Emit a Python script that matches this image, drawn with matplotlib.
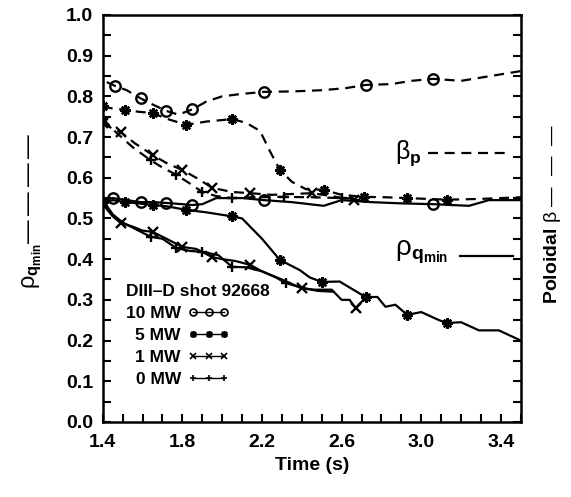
import matplotlib
matplotlib.use('Agg')
import matplotlib.pyplot as plt
import numpy as np
from matplotlib.lines import Line2D
from matplotlib.ticker import FixedLocator, MultipleLocator

plt.rcParams['font.family'] = ['Liberation Sans', 'DejaVu Sans']
plt.rcParams['mathtext.fontset'] = 'custom'
plt.rcParams['mathtext.rm'] = 'Liberation Sans'
plt.rcParams['mathtext.it'] = 'Liberation Sans:italic'
plt.rcParams['mathtext.bf'] = 'Liberation Sans:bold'

# poloidal beta (dashed), one per heating power
bp10_t = [1.42, 1.46, 1.52, 1.59, 1.65, 1.72, 1.78, 1.85, 1.92, 2.0, 2.1, 2.21, 2.35, 2.5, 2.62, 2.72, 2.85, 2.95, 3.06, 3.2, 3.35, 3.5]
bp10_v = [0.835, 0.826, 0.815, 0.795, 0.78, 0.764, 0.755, 0.768, 0.787, 0.80, 0.806, 0.811, 0.812, 0.815, 0.82, 0.828, 0.83, 0.838, 0.843, 0.838, 0.85, 0.862]
bp10_mk = [1, 3, 5, 7, 11, 15, 18]

bp5_t = [1.4, 1.45, 1.51, 1.58, 1.65, 1.72, 1.82, 1.92, 2.05, 2.12, 2.19, 2.24, 2.29, 2.35, 2.42, 2.51, 2.6, 2.71, 2.82, 2.93, 3.03, 3.13, 3.3, 3.5]
bp5_v = [0.775, 0.77, 0.767, 0.762, 0.759, 0.745, 0.73, 0.738, 0.744, 0.735, 0.715, 0.665, 0.619, 0.59, 0.572, 0.57, 0.558, 0.553, 0.552, 0.55, 0.548, 0.546, 0.548, 0.552]
bp5_mk = [0, 2, 4, 6, 8, 12, 15, 17, 19, 21]

bp1_t = [1.4, 1.45, 1.49, 1.56, 1.65, 1.72, 1.8, 1.88, 1.95, 2.05, 2.14, 2.25, 2.35, 2.45, 2.55, 2.66, 2.72]
bp1_v = [0.735, 0.72, 0.712, 0.685, 0.656, 0.636, 0.619, 0.597, 0.575, 0.565, 0.562, 0.558, 0.56, 0.562, 0.555, 0.545, 0.545]
bp1_mk = [0, 2, 4, 6, 8, 10, 13, 15]

bp0_t = [1.4, 1.47, 1.55, 1.64, 1.7, 1.77, 1.84, 1.9, 1.97, 2.05, 2.15, 2.31, 2.45, 2.6, 2.72]
bp0_v = [0.745, 0.71, 0.675, 0.643, 0.625, 0.607, 0.585, 0.565, 0.555, 0.55, 0.552, 0.553, 0.552, 0.55, 0.548]
bp0_mk = [0, 3, 5, 7, 9, 11, 13]

# rho at q_min (solid)
rq10_t = [1.4, 1.45, 1.52, 1.59, 1.65, 1.72, 1.8, 1.85, 1.9, 1.97, 2.1, 2.21, 2.35, 2.51, 2.6, 2.75, 2.9, 3.06, 3.24, 3.34, 3.5]
rq10_v = [0.545, 0.55, 0.545, 0.54, 0.54, 0.538, 0.535, 0.533, 0.535, 0.55, 0.55, 0.545, 0.54, 0.531, 0.545, 0.54, 0.537, 0.535, 0.531, 0.545, 0.545]
rq10_mk = [1, 3, 5, 7, 11, 17]

rq5_t = [1.4, 1.45, 1.51, 1.58, 1.65, 1.72, 1.82, 1.92, 2.05, 2.1, 2.2, 2.29, 2.39, 2.44, 2.5, 2.59, 2.72, 2.78, 2.82, 2.87, 2.93, 3.0, 3.09, 3.13, 3.2, 3.29, 3.39, 3.5]
rq5_v = [0.54, 0.545, 0.54, 0.537, 0.533, 0.53, 0.521, 0.515, 0.505, 0.5, 0.45, 0.398, 0.373, 0.355, 0.344, 0.345, 0.307, 0.307, 0.283, 0.288, 0.263, 0.27, 0.25, 0.243, 0.245, 0.225, 0.225, 0.2]
rq5_mk = [0, 2, 4, 6, 8, 11, 14, 16, 20, 23]

rq1_t = [1.4, 1.45, 1.49, 1.55, 1.6, 1.65, 1.72, 1.8, 1.87, 1.95, 2.0, 2.07, 2.14, 2.2, 2.3, 2.4, 2.46, 2.55, 2.6, 2.64, 2.67, 2.72]
rq1_v = [0.535, 0.505, 0.489, 0.48, 0.47, 0.467, 0.45, 0.43, 0.425, 0.405, 0.4, 0.395, 0.386, 0.37, 0.35, 0.328, 0.325, 0.325, 0.3, 0.3, 0.28, 0.305]
rq1_mk = [0, 2, 5, 7, 9, 12, 15, 20]

rq0_t = [1.4, 1.45, 1.5, 1.58, 1.64, 1.7, 1.77, 1.84, 1.9, 1.98, 2.05, 2.12, 2.2, 2.27, 2.32, 2.4, 2.48, 2.56]
rq0_v = [0.545, 0.51, 0.49, 0.47, 0.455, 0.45, 0.427, 0.42, 0.418, 0.41, 0.381, 0.38, 0.37, 0.355, 0.341, 0.33, 0.322, 0.32]
rq0_mk = [0, 4, 6, 8, 10, 14]

powers = ['10 MW', '5 MW', '1 MW', '0 MW']
markers = ['o', (8, 2, 0), 'x', '+']
x_ticks = [1.4, 1.8, 2.2, 2.6, 3.0, 3.4]

fig = plt.figure(figsize=(5.71, 4.97), dpi=100)
ax = fig.add_axes([0.180, 0.151, 0.732, 0.819])

dashed = [(bp10_t, bp10_v, bp10_mk), (bp5_t, bp5_v, bp5_mk), (bp1_t, bp1_v, bp1_mk), (bp0_t, bp0_v, bp0_mk)]
solid = [(rq10_t, rq10_v, rq10_mk), (rq5_t, rq5_v, rq5_mk), (rq1_t, rq1_v, rq1_mk), (rq0_t, rq0_v, rq0_mk)]

for (t, v, mk), m in zip(dashed, markers):
    ax.plot(t, v, color='black', lw=1.6, ls=(0, (4.5, 3)), marker=m, markevery=mk,
            ms=7.5, mew=1.7, mfc='none', mec='black')
for (t, v, mk), m in zip(solid, markers):
    ax.plot(t, v, color='black', lw=1.6, ls='-', marker=m, markevery=mk,
            ms=7.5, mew=1.7, mfc='none', mec='black')

ax.set_xlim(1.4, 3.5)
ax.set_ylim(0.0, 1.0)
ax.xaxis.set_major_locator(FixedLocator(x_ticks))
ax.xaxis.set_minor_locator(FixedLocator(np.arange(1.4, 3.51, 0.1)))
ax.yaxis.set_major_locator(MultipleLocator(0.1))
ax.yaxis.set_minor_locator(MultipleLocator(0.05))
ax.set_xticklabels([f'{x:.1f}' for x in x_ticks])
ax.tick_params(which='both', direction='in', length=6, width=1.5,
               left=True, right=True, bottom=True, top=False)
ax.tick_params(axis='x', pad=9)
ax.tick_params(axis='y', pad=7)
for lab in ax.get_xticklabels() + ax.get_yticklabels():
    lab.set_fontsize(14)
    lab.set_fontweight('bold')
for sp in ax.spines.values():
    sp.set_linewidth(1.8)

ax.set_xlabel('Time (s)', fontsize=14, fontweight='bold', labelpad=4)
fig.text(0.056, 0.575, r'$\mathrm{\rho}_{\mathbf{q}_{\mathbf{min}}}$' + '\u2014\u2009\u2014\u2009\u2014\u2009\u2014',
         rotation=90, fontsize=17, ha='center', va='center')
fig.text(0.968, 0.57, r'$\mathbf{Poloidal}\ \mathrm{\beta}$' + ' \u2014  \u2014  \u2014',
         rotation=90, fontsize=14, ha='center', va='center')

# in-plot keys
ax.text(0.70, 0.661, r'$\mathrm{\beta}_{\mathbf{p}}$', transform=ax.transAxes,
        fontsize=18, ha='left', va='center')
ax.plot([0.778, 0.962], [0.661, 0.661], transform=ax.transAxes, color='black',
        lw=1.6, ls=(0, (4.5, 3)))
ax.text(0.70, 0.41, r'$\mathrm{\rho}_{\mathbf{q}_{\mathbf{min}}}$', transform=ax.transAxes,
        fontsize=20, ha='left', va='baseline')
ax.plot([0.854, 0.981], [0.408, 0.408], transform=ax.transAxes, color='black', lw=1.6)

handles = [Line2D([], [], color='black', lw=1, marker=m, ms=5, mew=1.2, mfc='none', mec='black')
           for m in markers]
leg = ax.legend(handles, powers, title='DIII\u2013D shot 92668', loc='upper left',
                bbox_to_anchor=(0.055, 0.34), frameon=False, markerfirst=False,
                numpoints=3, handlelength=2.4, handletextpad=0.4, labelspacing=0.4,
                borderpad=0, borderaxespad=0, alignment='left',
                prop={'size': 12.5, 'weight': 'bold'},
                title_fontproperties={'size': 12.5, 'weight': 'bold'})

fig.savefig('out.png', dpi=100)
